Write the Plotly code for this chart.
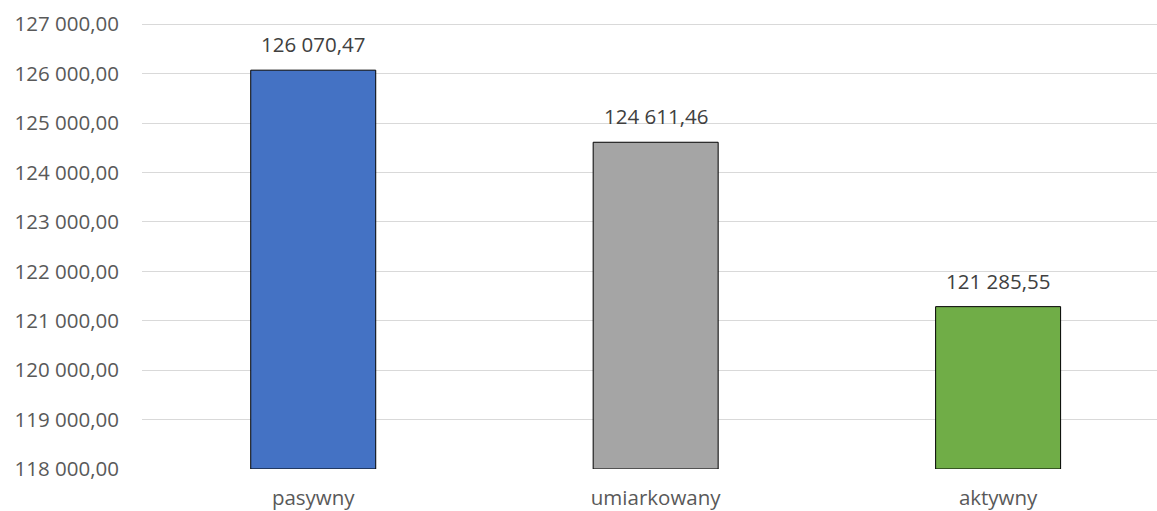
import plotly.graph_objects as go

categories = ["pasywny", "umiarkowany", "aktywny"]
values = [126070.47, 124611.46, 121285.55]
bar_colors = ["#4472C4", "#A5A5A5", "#70AD47"]
y_ticks = [118000, 119000, 120000, 121000, 122000, 123000, 124000, 125000, 126000, 127000]

FONT = "Open Sans"
GREY = "#595959"
FS = 20.5
Y_MIN = 118000


def pl_fmt(v):
    # Polish number style: space for thousands, comma for decimals
    return f"{v:,.2f}".replace(",", " ").replace(".", ",")


fig = go.Figure()
fig.add_bar(
    x=categories, y=[v - Y_MIN for v in values], base=Y_MIN,
    marker_color=bar_colors,
    marker_line_color="black", marker_line_width=1,
    width=0.365,
    hoverinfo="skip",
)

# value labels above bars
for c, v in zip(categories, values):
    fig.add_annotation(
        x=c, y=v, text=pl_fmt(v), showarrow=False,
        yanchor="bottom", yshift=10,
        font=dict(family=FONT, size=FS, color="#404040"),
    )

fig.update_layout(
    width=1157, height=511,
    margin=dict(l=142, r=0, t=22, b=42),
    plot_bgcolor="white", paper_bgcolor="white",
    separators=", ",
    showlegend=False,
    font=dict(family=FONT, size=FS, color=GREY),
)
fig.update_xaxes(
    range=[-0.5, 2.464], showgrid=False, showline=False,
    ticks="", automargin=False, ticklabelstandoff=14,
    tickfont=dict(size=FS, color=GREY),
)
# a bit of headroom so the 127 000 gridline is drawn
fig.update_yaxes(
    range=[Y_MIN, 127045], tickvals=y_ticks, tickformat=",.2f",
    showgrid=True, gridcolor="#D9D9D9", gridwidth=1,
    zeroline=False, showline=False, ticks="", automargin=False,
    ticklabelstandoff=22, tickfont=dict(size=FS, color=GREY),
)

fig.write_html(
    "out.html",
    config={"displayModeBar": False},
    post_script="document.body.style.margin='0';",
)
